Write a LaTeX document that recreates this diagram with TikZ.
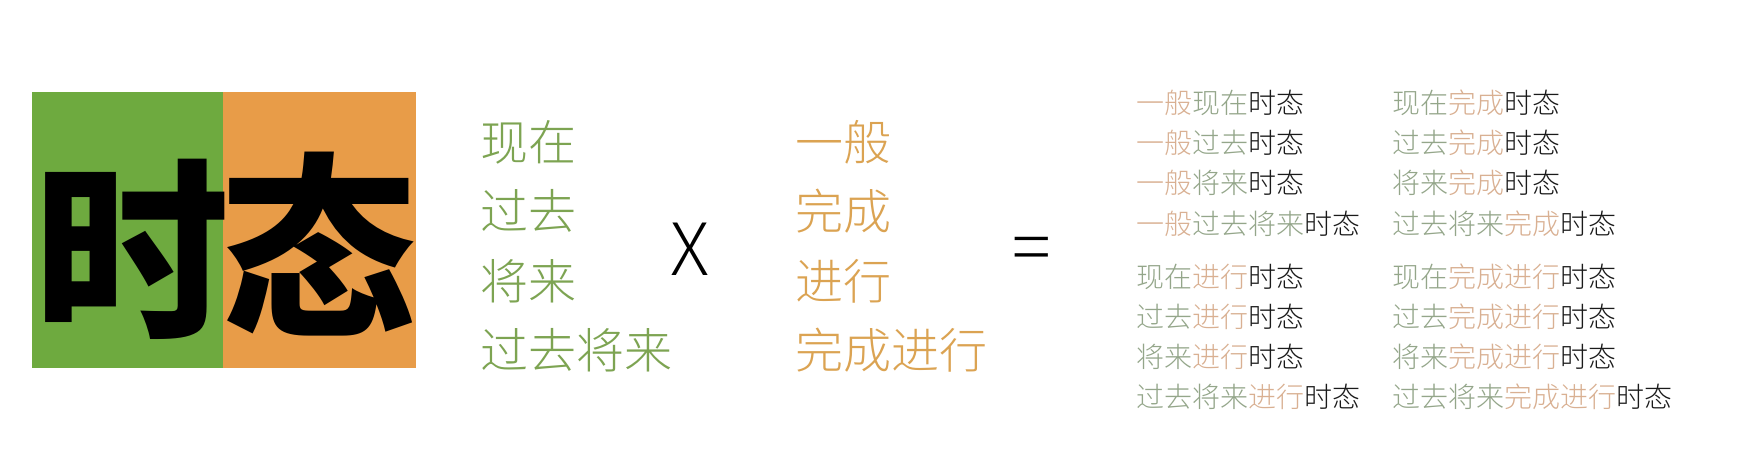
\documentclass[tikz,border=0pt]{standalone}
\usepackage{fontspec}
\newfontfamily\cjk{Noto Sans CJK SC}
\newfontfamily\cjklight{Noto Sans CJK SC Light}
\newfontfamily\cjkblack{Noto Sans CJK SC Black}
\definecolor{boxgreen}{HTML}{6EAA3F}
\definecolor{boxorange}{HTML}{E89C48}
\definecolor{midgreen}{HTML}{7DA452}
\definecolor{midorange}{HTML}{DBA352}
\definecolor{lgreen}{HTML}{94A68A}
\definecolor{lorange}{HTML}{D9B092}
\definecolor{ink}{HTML}{1A1A1A}
\newcommand{\Gp}[1]{{\color{lgreen}#1}}
\newcommand{\Op}[1]{{\color{lorange}#1}}
\newcommand{\Sx}{{\color{ink}时态}}
\begin{document}
\begin{tikzpicture}[x=1pt,y=-1pt,
  every node/.style={inner sep=0pt,outer sep=0pt},
  bigchar/.style={anchor=base,font=\cjkblack\fontsize{195}{195}\selectfont,text=black},
  midg/.style={anchor=base west,font=\cjklight\fontsize{48}{48}\selectfont,text=midgreen},
  mido/.style={anchor=base west,font=\cjklight\fontsize{48}{48}\selectfont,text=midorange},
  opsym/.style={anchor=base,font=\cjklight\fontsize{72}{72}\selectfont,text=black},
  combo/.style={anchor=base west,font=\cjklight\fontsize{28}{28}\selectfont}]
\useasboundingbox[fill=white] (0,0) rectangle (1748,475);
% title block
\fill[boxgreen] (32,92) rectangle (223,368);
\fill[boxorange] (223,92) rectangle (416,368);
\node[bigchar] (shi) at (132,324) {时};
\node[bigchar] (tai) at (319,321) {态};
% time column
\node[midg] (xz) at (480,160) {现在};
\node[midg] (gq) at (480,229) {过去};
\node[midg] (jl) at (480,299) {将来};
\node[midg] (gqjl) at (480,368) {过去将来};
% operator
\node[opsym] (times) at (690,275) {X};
% aspect column
\node[mido] (yb) at (795,160) {一般};
\node[mido] (wc) at (795,229) {完成};
\node[mido] (jx) at (795,299) {进行};
\node[mido] (wcjx) at (795,368) {完成进行};
% equals
\node[opsym] (eq) at (1032,273) {=};
% results, left column
\node[combo] (a1) at (1136,113.5) {\Op{一般}\Gp{现在}\Sx};
\node[combo] (a2) at (1136,153.5) {\Op{一般}\Gp{过去}\Sx};
\node[combo] (a3) at (1136,193.5) {\Op{一般}\Gp{将来}\Sx};
\node[combo] (a4) at (1136,234) {\Op{一般}\Gp{过去将来}\Sx};
\node[combo] (a5) at (1136,287) {\Gp{现在}\Op{进行}\Sx};
\node[combo] (a6) at (1136,327) {\Gp{过去}\Op{进行}\Sx};
\node[combo] (a7) at (1136,367.5) {\Gp{将来}\Op{进行}\Sx};
\node[combo] (a8) at (1136,407) {\Gp{过去将来}\Op{进行}\Sx};
% results, right column
\node[combo] (b1) at (1392,113.5) {\Gp{现在}\Op{完成}\Sx};
\node[combo] (b2) at (1392,153.5) {\Gp{过去}\Op{完成}\Sx};
\node[combo] (b3) at (1392,193.5) {\Gp{将来}\Op{完成}\Sx};
\node[combo] (b4) at (1392,234) {\Gp{过去将来}\Op{完成}\Sx};
\node[combo] (b5) at (1392,287) {\Gp{现在}\Op{完成进行}\Sx};
\node[combo] (b6) at (1392,327) {\Gp{过去}\Op{完成进行}\Sx};
\node[combo] (b7) at (1392,367.5) {\Gp{将来}\Op{完成进行}\Sx};
\node[combo] (b8) at (1392,407) {\Gp{过去将来}\Op{完成进行}\Sx};
\end{tikzpicture}
\end{document}
